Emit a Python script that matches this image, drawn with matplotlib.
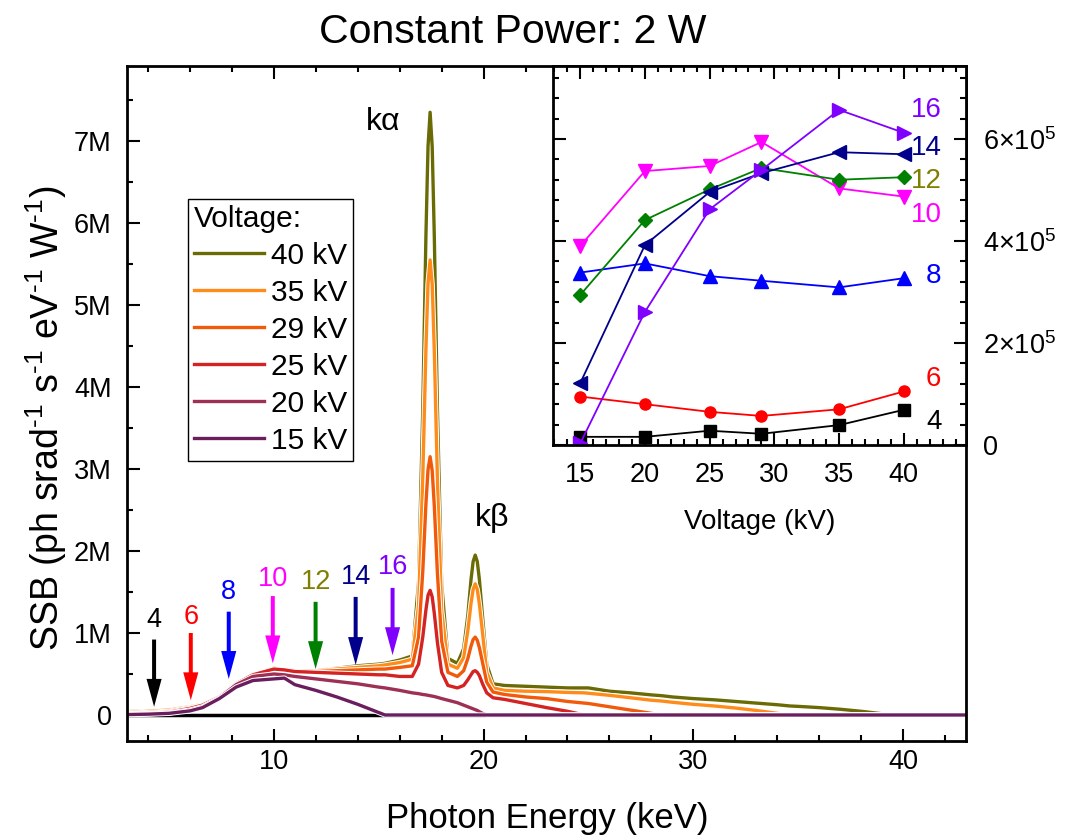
import matplotlib
matplotlib.use("Agg")
from matplotlib import pyplot as plt
from matplotlib.ticker import MultipleLocator, FuncFormatter
import matplotlib.patheffects as pe

plt.rcParams['font.family'] = ['Liberation Sans', 'DejaVu Sans']
plt.rcParams['mathtext.fontset'] = 'custom'
plt.rcParams['mathtext.rm'] = 'Liberation Sans'
plt.rcParams['mathtext.default'] = 'regular'

# spectra, SSB in units of 1e6
energy = [3, 4, 5, 6, 6.6, 7.4, 8.2, 9, 10, 10.5,
          11, 12, 13, 14, 15, 15.3, 16, 16.6, 16.9, 17.1,
          17.25, 17.35, 17.45, 17.55, 17.65, 17.8, 18.0, 18.3, 18.75, 19.05,
          19.25, 19.4, 19.5, 19.6, 19.7, 19.8, 19.95, 20.15, 20.45, 21,
          22, 23, 24, 24.8, 25, 26, 27, 28, 28.5, 29,
          30, 31, 32, 33, 34, 34.6, 35, 36, 37, 38,
          39, 39.5, 43]

ssb_40 = [0.04, 0.05, 0.065, 0.10, 0.13, 0.22, 0.38, 0.49, 0.57, 0.55,
          0.54, 0.54, 0.57, 0.60, 0.62, 0.63, 0.67, 0.72, 1.62, 3.72,
          5.84, 6.93, 7.35, 6.93, 5.84, 3.71, 1.60, 0.69, 0.63, 0.81,
          1.22, 1.65, 1.87, 1.95, 1.87, 1.65, 1.20, 0.62, 0.38, 0.36,
          0.35, 0.34, 0.33, 0.33, 0.33, 0.29, 0.27, 0.245, 0.235, 0.22,
          0.20, 0.185, 0.165, 0.145, 0.125, 0.11, 0.105, 0.09, 0.07, 0.045,
          0.015, 0.0, 0.0]
ssb_35 = [0.03, 0.045, 0.06, 0.10, 0.13, 0.22, 0.38, 0.49, 0.57, 0.55,
          0.54, 0.54, 0.56, 0.58, 0.60, 0.61, 0.64, 0.68, 1.34, 2.89,
          4.46, 5.26, 5.55, 5.25, 4.44, 2.85, 1.28, 0.62, 0.57, 0.70,
          1.03, 1.36, 1.53, 1.60, 1.53, 1.35, 1.00, 0.52, 0.33, 0.30,
          0.29, 0.285, 0.275, 0.27, 0.265, 0.24, 0.21, 0.18, 0.17, 0.155,
          0.13, 0.11, 0.085, 0.055, 0.02, 0.0]
ssb_29 = [0.02, 0.03, 0.045, 0.09, 0.12, 0.22, 0.38, 0.49, 0.57, 0.55,
          0.54, 0.53, 0.54, 0.55, 0.56, 0.56, 0.58, 0.60, 0.95, 1.75,
          2.57, 2.99, 3.15, 2.98, 2.55, 1.72, 0.90, 0.52, 0.47, 0.54,
          0.69, 0.84, 0.92, 0.95, 0.91, 0.82, 0.64, 0.40, 0.28, 0.25,
          0.22, 0.20, 0.165, 0.145, 0.14, 0.10, 0.06, 0.02, 0.0]
ssb_25 = [0.015, 0.02, 0.035, 0.08, 0.12, 0.22, 0.38, 0.49, 0.56, 0.55,
          0.53, 0.52, 0.51, 0.50, 0.49, 0.49, 0.47, 0.47, 0.62, 0.95,
          1.28, 1.46, 1.52, 1.44, 1.24, 0.88, 0.52, 0.36, 0.33, 0.36,
          0.43, 0.49, 0.53, 0.54, 0.52, 0.48, 0.38, 0.27, 0.21, 0.19,
          0.14, 0.09, 0.045, 0.0]
ssb_20 = [0.01, 0.015, 0.025, 0.06, 0.10, 0.21, 0.37, 0.47, 0.50, 0.49,
          0.47, 0.44, 0.41, 0.38, 0.34, 0.33, 0.30, 0.27, 0.26, 0.25,
          0.245, 0.24, 0.235, 0.23, 0.225, 0.215, 0.20, 0.18, 0.15, 0.12,
          0.10, 0.085, 0.075, 0.065, 0.055, 0.04, 0.02, 0.0]
ssb_15 = [0.005, 0.01, 0.02, 0.05, 0.09, 0.20, 0.34, 0.42, 0.44, 0.45,
          0.37, 0.30, 0.22, 0.13, 0.03, 0.0]

spectra = [ssb_40, ssb_35, ssb_29, ssb_25, ssb_20, ssb_15]
spectra_labels = ['40 kV', '35 kV', '29 kV', '25 kV', '20 kV', '15 kV']
spectra_colors = ['#6B6B05', '#FF8C1A', '#F05A0A', '#D42323', '#9E2F55', '#6B1E5E']

# arrows: energy, tip, top, label height (1e6)
arrow_names = ['4', '6', '8', '10', '12', '14', '16']
arrow_energy = [4.29, 6.04, 7.85, 9.95, 11.99, 13.9, 15.66]
arrow_tip = [0.10, 0.18, 0.44, 0.63, 0.56, 0.61, 0.73]
arrow_top = [0.92, 1.00, 1.26, 1.45, 1.38, 1.44, 1.55]
arrow_text_y = [1.16, 1.20, 1.50, 1.66, 1.62, 1.68, 1.80]
arrow_colors = ['black', '#FF0000', '#0000FF', '#FF00FF', '#008000', '#00008B', '#8000FF']
text_colors = ['black', '#FF0000', '#0000FF', '#FF00FF', '#808000', '#00008B', '#8000FF']

# inset: SSB at each energy vs tube voltage
voltage_kv = [15, 20, 25, 29, 35, 40]
ssb_e4 = [16e3, 16e3, 28e3, 22e3, 39e3, 69e3]
ssb_e6 = [95e3, 80e3, 65e3, 57e3, 70e3, 105e3]
ssb_e8 = [338e3, 356e3, 331e3, 322e3, 309e3, 327e3]
ssb_e10 = [390e3, 537e3, 547e3, 594e3, 503e3, 487e3]
ssb_e12 = [294e3, 441e3, 501e3, 543e3, 520e3, 525e3]
ssb_e14 = [121e3, 392e3, 496e3, 533e3, 574e3, 570e3]
ssb_e16 = [3e3, 261e3, 462e3, 539e3, 657e3, 612e3]
inset_series = [ssb_e4, ssb_e6, ssb_e8, ssb_e10, ssb_e12, ssb_e14, ssb_e16]
inset_markers = ['s', 'o', '^', 'v', 'D', '<', '>']
inset_label_y = [45e3, 129e3, 331e3, 451e3, 517e3, 582e3, 657e3]

fig = plt.figure(figsize=(10.82, 8.35), dpi=100)
ax = fig.add_axes([0.1174, 0.1126, 0.7754, 0.8084])

ax.axhline(0, color='black', lw=2.5, zorder=1)
for vals, lab, col in zip(spectra, spectra_labels, spectra_colors):
    vals = vals + [0.0] * (len(energy) - len(vals))
    ax.plot(energy, vals, color=col, lw=2.4, label=lab, zorder=2,
            path_effects=[pe.Stroke(linewidth=3.8, foreground='white'), pe.Normal()])

for name, e, tip, top, ty, ac, tc in zip(arrow_names, arrow_energy, arrow_tip, arrow_top,
                                          arrow_text_y, arrow_colors, text_colors):
    ax.arrow(e, top, 0, tip - top, width=0.19, head_width=0.72, head_length=0.34,
             length_includes_head=True, color=ac, lw=0, zorder=3)
    ax.text(e, ty, name, color=tc, fontsize=19.5, ha='center', va='center')

ax.text(15.2, 7.23, 'kα', fontsize=23, ha='center', va='center')
ax.text(20.4, 2.4, 'kβ', fontsize=23, ha='center', va='center')

ax.set_xlim(3, 43)
ax.set_ylim(-0.317, 7.915)
ax.xaxis.set_major_locator(MultipleLocator(10))
ax.xaxis.set_minor_locator(MultipleLocator(2))
ax.yaxis.set_major_locator(MultipleLocator(1))
ax.yaxis.set_minor_locator(MultipleLocator(0.5))
ax.yaxis.set_major_formatter(FuncFormatter(lambda v, p: '0' if abs(v) < 1e-9 else f'{int(round(v))}M'))
ax.tick_params(which='both', direction='in', top=True, right=False, width=1.5, labelsize=19.5)
ax.tick_params(which='major', length=9)
ax.tick_params(which='minor', length=4)
ax.tick_params(axis='y', pad=11)
ax.tick_params(axis='x', pad=6)
for s in ax.spines.values():
    s.set_linewidth(2)

leg = ax.legend(title='Voltage:', loc='upper left', bbox_to_anchor=(188 / 1082, 1 - 199 / 835),
                bbox_transform=fig.transFigure, borderaxespad=0, fontsize=21.5, title_fontsize=21.5,
                handlelength=2.35, handletextpad=0.22, labelspacing=0.3, borderpad=0.2,
                fancybox=False, edgecolor='black', framealpha=1, alignment='left')
leg.get_frame().set_linewidth(1.0)

fig.text(513 / 1082, 1 - 43 / 835, 'Constant Power: 2 W', fontsize=29.5, ha='center', va='baseline')
fig.text(547 / 1082, 1 - 828 / 835, 'Photon Energy (keV)', fontsize=25, ha='center', va='baseline')
fig.text(46 / 1082, 1 - 418 / 835,
         r'SSB (ph srad$^{\text{-1}}$ s$^{\text{-1}}$ eV$^{\text{-1}}$ W$^{\text{-1}}$)',
         fontsize=27, rotation=90, ha='center', va='center')

# inset
ax2 = fig.add_axes([553 / 1082, 1 - 445 / 835, 413 / 1082, 379 / 835])
for vals, m, ac, tc, ly, name in zip(inset_series, inset_markers, arrow_colors, text_colors,
                                      inset_label_y, arrow_names):
    ms = 7 if m == 'D' else (8 if m in 'so' else 10)
    ax2.plot(voltage_kv, vals, color=ac, marker=m, markersize=ms, lw=1.3)
    ax2.text(42.9, ly, name, color=tc, fontsize=20, ha='right', va='center')

ax2.set_xlim(12.9, 44.8)
ax2.set_ylim(0, 7.43e5)
ax2.xaxis.set_major_locator(MultipleLocator(5))
ax2.xaxis.set_minor_locator(MultipleLocator(1))
ax2.yaxis.set_major_locator(MultipleLocator(2e5))
ax2.yaxis.set_minor_locator(MultipleLocator(4e4))
ax2.yaxis.set_major_formatter(FuncFormatter(lambda v, p: '0' if v == 0 else f'{int(round(v / 1e5))}×10$^{{5}}$'))
ax2.tick_params(which='both', direction='in', top=True, bottom=True, left=True, right=True,
                labelleft=False, labelright=True, width=1.5, labelsize=19.5)
ax2.tick_params(which='major', length=9)
ax2.tick_params(which='minor', length=4)
ax2.tick_params(axis='both', pad=12)
for s in ax2.spines.values():
    s.set_linewidth(2)
fig.text(760 / 1082, 1 - 529 / 835, 'Voltage (kV)', fontsize=20, ha='center', va='baseline')

fig.savefig('out.png', dpi=100)
